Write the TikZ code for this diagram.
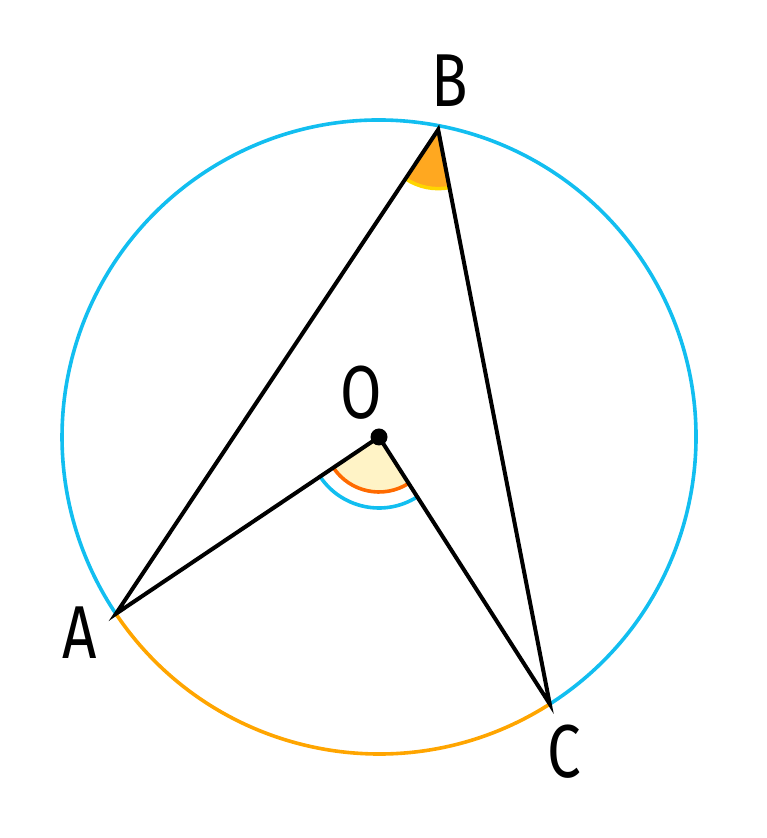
\documentclass[tikz,border=0pt]{standalone}
\usepackage{fontspec}
\setmainfont{Fira Sans}
\usetikzlibrary{calc}
\definecolor{cblue}{HTML}{12BEF0}
\definecolor{corange}{HTML}{FFA500}
\definecolor{cred}{HTML}{FF6A00}
\definecolor{cpale}{HTML}{FFF3C6}
\definecolor{cfillB}{HTML}{FFA820}
\definecolor{cyel}{HTML}{FFD500}
\tikzset{
  lbl/.style={inner sep=0pt, font=\fontsize{75}{75}\selectfont},
  seg/.style={line width=4pt, black, line join=miter},
  circ/.style={line width=3.6pt}
}
\newcommand{\cond}[1]{\scalebox{0.8}[1]{#1}}
\begin{document}
\begin{tikzpicture}[x=1pt,y=1pt]
\useasboundingbox (0,0) rectangle (766,838);
\coordinate (O) at (379,401);
\coordinate (A) at ($(O)+(213.9:317)$);
\coordinate (B) at ($(O)+(79.1:313)$);
\coordinate (C) at ($(O)+(302.6:317)$);
% angle at O
\fill[cpale] (O) -- ($(O)+(213.9:55)$) arc[start angle=213.9, end angle=302.6, radius=55] -- cycle;
\draw[cred, line width=3.6pt] ($(O)+(213.9:55)$) arc[start angle=213.9, end angle=302.6, radius=55];
\draw[cblue, line width=3.6pt] ($(O)+(213.9:71)$) arc[start angle=213.9, end angle=302.6, radius=71];
% angle at B
\fill[cfillB] (B) -- ($(B)+(236.35:58)$) arc[start angle=236.35, end angle=281, radius=58] -- cycle;
\draw[cyel, line width=3.5pt] ($(B)+(236.35:59)$) arc[start angle=236.35, end angle=281, radius=59];
% circle
\draw[cblue, circ] (C) arc[start angle=302.6, end angle=573.9, radius=317];
\draw[corange, circ] (A) arc[start angle=213.9, end angle=302.6, radius=317];
% segments
\draw[seg] (A) -- (B) -- (C) -- (O) -- cycle;
\fill (O) circle (8.5);
% labels
\node[lbl] (lA) at (80,205) {\cond{A}};
\node[lbl] (lB) at (450,757) {\cond{B}};
\node[lbl] (lO) at (361,445) {\cond{O}};
\node[lbl] (lC) at (564,86) {\cond{C}};
\end{tikzpicture}
\end{document}
